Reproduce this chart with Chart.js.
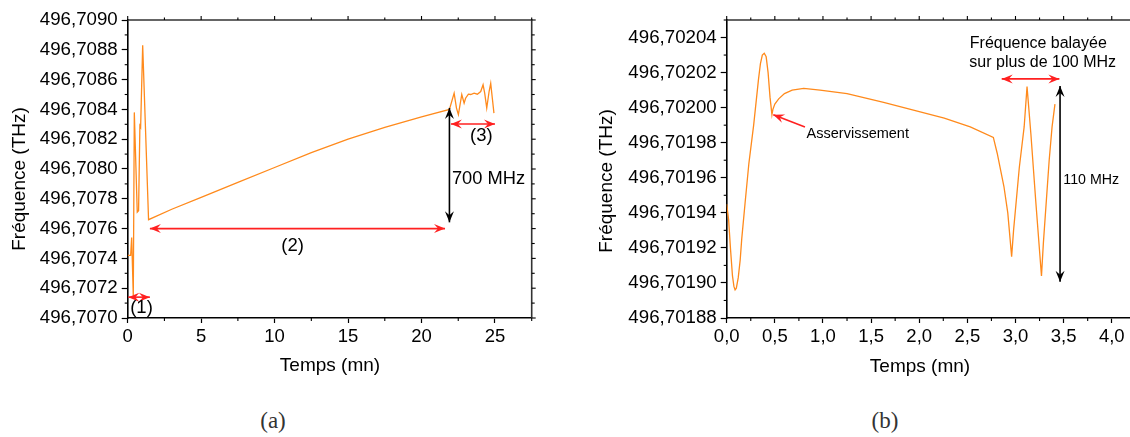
<!DOCTYPE html>
<html>
<head>
<meta charset="utf-8">
<script src="https://cdn.jsdelivr.net/npm/chart.js@4/dist/chart.umd.min.js"></script>
<style>
  html, body { margin:0; padding:0; background:#fff; overflow:hidden; width:1130px; height:437px; }
  canvas { position:absolute; top:0; }
  #ca { left:0; }
  #cb { left:565px; }
  .cap { position:absolute; top:408px; font-family:"Liberation Serif","DejaVu Serif",serif; font-size:23px; color:#333; transform:translateX(-50%); }
</style>
</head>
<body>
<canvas id="ca" width="565" height="400"></canvas>
<canvas id="cb" width="570" height="400"></canvas>
<div class="cap" style="left:273px">(a)</div>
<div class="cap" style="left:885px">(b)</div>
<script>
// ---------- Data: chart (a) ----------
const timeA = [0, 0.20, 0.27, 0.38, 0.45, 0.65, 0.74, 0.83, 0.88, 1.02, 1.42,
  3, 5, 7.5, 10, 12.5, 15, 17.5, 20, 21.9,
  22.22, 22.38, 22.51, 22.74, 22.9, 23.0, 23.19, 23.35, 23.58, 23.8, 24.03, 24.19, 24.3, 24.44, 24.6, 24.71, 24.82, 24.93];
const freqA = [496.70742, 496.70742, 496.70754, 496.70715, 496.70838, 496.70771, 496.70772, 496.70829, 496.70828, 496.70883, 496.70766,
  496.70773, 496.70781, 496.70791, 496.70801, 496.70811, 496.70820, 496.70828, 496.70835, 496.70840,
  496.708509, 496.708409, 496.708365, 496.70850, 496.708442, 496.708475, 496.708502, 496.70850, 496.708509, 496.708502, 496.70852, 496.708565, 496.708509, 496.708409, 496.70852, 496.708575, 496.708475, 496.708375];
const xTicksA = [0, 5, 10, 15, 20, 25];
const xLabelsA = ['0', '5', '10', '15', '20', '25'];
const yTicksA = [496.7070, 496.7072, 496.7074, 496.7076, 496.7078, 496.7080, 496.7082, 496.7084, 496.7086, 496.7088, 496.7090];
const yLabelsA = ['496,7070', '496,7072', '496,7074', '496,7076', '496,7078', '496,7080', '496,7082', '496,7084', '496,7086', '496,7088', '496,7090'];

// ---------- Data: chart (b) ----------
const timeB = [0, 0.02, 0.04, 0.06, 0.075, 0.087, 0.10, 0.12, 0.14, 0.156, 0.19, 0.23, 0.28, 0.33, 0.35, 0.37, 0.39, 0.41, 0.43, 0.45, 0.47,
  0.48, 0.50, 0.54, 0.60, 0.68, 0.80, 0.97, 1.25, 1.63, 1.98, 2.26, 2.53, 2.77,
  2.81, 2.88, 2.92, 2.96, 2.98, 3.04, 3.09, 3.12, 3.16, 3.21, 3.27, 3.29, 3.35, 3.38, 3.41];
const freqB = [496.701945, 496.701936, 496.701919, 496.701904, 496.701898, 496.701896, 496.701897, 496.701903, 496.701913, 496.701925, 496.701945, 496.701968, 496.701990, 496.702016, 496.702025, 496.702030, 496.702031, 496.702029, 496.702020, 496.702006, 496.701996,
  496.701999, 496.702002, 496.702005, 496.702008, 496.702010, 496.702011, 496.702010, 496.702008, 496.702003, 496.701998, 496.701994, 496.701989, 496.701983,
  496.701974, 496.701955, 496.701940, 496.701915, 496.701930, 496.701966, 496.701989, 496.702012, 496.701985, 496.701947, 496.701904, 496.701923, 496.701970, 496.701989, 496.702002];
const xTicksB = [0, 0.5, 1.0, 1.5, 2.0, 2.5, 3.0, 3.5, 4.0];
const xLabelsB = ['0,0', '0,5', '1,0', '1,5', '2,0', '2,5', '3,0', '3,5', '4,0'];
const yTicksB = [496.70188, 496.70190, 496.70192, 496.70194, 496.70196, 496.70198, 496.70200, 496.70202, 496.70204];
const yLabelsB = ['496,70188', '496,70190', '496,70192', '496,70194', '496,70196', '496,70198', '496,70200', '496,70202', '496,70204'];

// ---------- Annotations (data units) ----------
const annA = {
  arrows: [
    {x1: 0.04, y1: 496.70714, x2: 1.51, y2: 496.70714, color: '#ff2020', heads: 2},
    {x1: 1.51, y1: 496.70760, x2: 21.6, y2: 496.70760, color: '#ff2020', heads: 2},
    {x1: 21.9, y1: 496.70841, x2: 21.9, y2: 496.707642, color: '#000', heads: 2},
    {x1: 22.0, y1: 496.708302, x2: 25.0, y2: 496.708302, color: '#ff2020', heads: 2}
  ],
  texts: [
    {x: 0.94, y: 496.707065, t: '(1)', size: 18.5, align: 'center'},
    {x: 11.23, y: 496.707487, t: '(2)', size: 18.5, align: 'center'},
    {x: 22.07, y: 496.707933, t: '700 MHz', size: 18.3, align: 'left'},
    {x: 24.07, y: 496.70822, t: '(3)', size: 18.5, align: 'center'}
  ]
};
const annB = {
  arrows: [
    {x1: 0.813, y1: 496.701989, x2: 0.484, y2: 496.701996, color: '#ff2020', heads: 1},
    {x1: 2.857, y1: 496.7020164, x2: 3.456, y2: 496.7020164, color: '#ff2020', heads: 2},
    {x1: 3.463, y1: 496.7020124, x2: 3.463, y2: 496.7019007, color: '#000', heads: 2}
  ],
  texts: [
    {x: 0.83, y: 496.701985, t: 'Asservissement', size: 14.5, align: 'left'},
    {x: 3.237, y: 496.7020368, t: 'Fréquence balayée', size: 16, align: 'center'},
    {x: 3.283, y: 496.7020257, t: 'sur plus de 100 MHz', size: 16, align: 'center'},
    {x: 3.497, y: 496.7019588, t: '110 MHz', size: 14.2, align: 'left'}
  ]
};

const FONT = '"Liberation Sans", Arial, sans-serif';

function arrowHead(ctx, tx, ty, ang, color) {
  const L = 11, W = 4.5, N = 7;
  ctx.save();
  ctx.translate(tx, ty);
  ctx.rotate(ang);
  ctx.fillStyle = color;
  ctx.beginPath();
  ctx.moveTo(0, 0);
  ctx.lineTo(-L, -W);
  ctx.lineTo(-N, 0);
  ctx.lineTo(-L, W);
  ctx.closePath();
  ctx.fill();
  ctx.restore();
}

const decoPlugin = {
  id: 'deco',
  afterDraw(chart) {
    const o = chart.options.plugins.deco;
    const {ctx, chartArea: a, scales: {x, y}} = chart;
    ctx.save();
    ctx.strokeStyle = '#333';
    ctx.lineWidth = 1.6;
    ctx.beginPath();
    ctx.moveTo(a.left, a.top); ctx.lineTo(a.right, a.top); ctx.lineTo(a.right, a.bottom);
    ctx.stroke();
    ctx.strokeStyle = '#000';
    ctx.lineWidth = 1.1;
    const seg = (x1, y1, x2, y2) => { ctx.beginPath(); ctx.moveTo(x1, y1); ctx.lineTo(x2, y2); ctx.stroke(); };
    const xt = o.xTicks;
    for (let i = 0; i < xt.length; i++) {
      const px = x.getPixelForValue(xt[i]);
      seg(px, a.top, px, a.top - 4);
      const mid = i < xt.length - 1 ? (xt[i] + xt[i + 1]) / 2 : xt[i] + (xt[i] - xt[i - 1]) / 2;
      const pm = x.getPixelForValue(mid);
      if (pm <= a.right) { seg(pm, a.bottom, pm, a.bottom + 3); seg(pm, a.top, pm, a.top - 2.5); }
    }
    const yt = o.yTicks;
    for (let i = 0; i < yt.length; i++) {
      const py = y.getPixelForValue(yt[i]);
      seg(a.right, py, a.right + 4, py);
      const mid = i < yt.length - 1 ? (yt[i] + yt[i + 1]) / 2 : yt[i] + (yt[i] - yt[i - 1]) / 2;
      const pm = y.getPixelForValue(mid);
      if (pm >= a.top - 0.5) { seg(a.left, pm, a.left - 3, pm); seg(a.right, pm, a.right + 3, pm); }
    }
    o.ann.arrows.forEach(ar => {
      const x1 = x.getPixelForValue(ar.x1), y1 = y.getPixelForValue(ar.y1);
      const x2 = x.getPixelForValue(ar.x2), y2 = y.getPixelForValue(ar.y2);
      const ang = Math.atan2(y2 - y1, x2 - x1);
      ctx.strokeStyle = ar.color; ctx.lineWidth = 1.6;
      seg(x1, y1, x2, y2);
      arrowHead(ctx, x2, y2, ang, ar.color);
      if (ar.heads === 2) arrowHead(ctx, x1, y1, ang + Math.PI, ar.color);
    });
    ctx.fillStyle = '#000';
    ctx.textBaseline = 'middle';
    o.ann.texts.forEach(t => {
      ctx.font = t.size + 'px ' + FONT;
      ctx.textAlign = t.align;
      ctx.fillText(t.t, x.getPixelForValue(t.x), y.getPixelForValue(t.y));
    });
    ctx.font = '19px ' + FONT;
    ctx.textAlign = 'center';
    ctx.fillText(o.xTitle, o.xTitlePos[0], o.xTitlePos[1]);
    ctx.save();
    ctx.translate(o.yTitlePos[0], o.yTitlePos[1]);
    ctx.rotate(-Math.PI / 2);
    ctx.fillText(o.yTitle, 0, 0);
    ctx.restore();
    ctx.restore();
  }
};

function makeChart(id, times, freqs, xMin, xMax, yMin, yMax, xTicks, xLabels, yTicks, yLabels, yW, padRight, ann, xTitlePos, yTitlePos) {
  const pts = times.map((t, i) => ({x: t, y: freqs[i]}));
  return new Chart(document.getElementById(id), {
    type: 'line',
    data: { datasets: [{ data: pts, borderColor: '#ff8a1c', borderWidth: 1.3, pointRadius: 0, tension: 0, fill: false }] },
    options: {
      responsive: false, animation: false,
      layout: { padding: { left: 0, top: 20, right: padRight, bottom: 0 } },
      plugins: {
        legend: { display: false }, tooltip: { enabled: false },
        deco: { xTicks, yTicks, ann, xTitle: 'Temps (mn)', yTitle: 'Fréquence (THz)', xTitlePos, yTitlePos }
      },
      scales: {
        x: {
          type: 'linear', min: xMin, max: xMax,
          afterFit: s => { s.height = 82; },
          afterBuildTicks: s => { s.ticks = xTicks.map(v => ({value: v})); },
          ticks: { callback: (v, i) => xLabels[i], autoSkip: false, maxRotation: 0, padding: 3, color: '#000', font: { family: FONT, size: 18.5 } },
          grid: { drawOnChartArea: false, drawTicks: true, tickLength: 5, tickColor: '#000', tickWidth: 1.2 },
          border: { display: true, color: '#000', width: 1.6 }
        },
        y: {
          type: 'linear', min: yMin, max: yMax,
          afterFit: s => { s.width = yW; },
          afterBuildTicks: s => { s.ticks = yTicks.map(v => ({value: v})); },
          ticks: { callback: (v, i) => yLabels[i], autoSkip: false, padding: 4, color: '#000', font: { family: FONT, size: 18.7 } },
          grid: { drawOnChartArea: false, drawTicks: true, tickLength: 6, tickColor: '#000', tickWidth: 1.2 },
          border: { display: true, color: '#000', width: 1.6 }
        }
      }
    },
    plugins: [decoPlugin]
  });
}

makeChart('ca', timeA, freqA, 0, 27.5, 496.7070, 496.7090, xTicksA, xLabelsA, yTicksA, yLabelsA, 127.7, 33.3, annA, [330, 366], [20, 179]);
makeChart('cb', timeB, freqB, 0, 4.2, 496.70188, 496.70205, xTicksB, xLabelsB, yTicksB, yLabelsB, 161.7, 4, annB, [355, 367], [41.7, 181]);
</script>
</body>
</html>
